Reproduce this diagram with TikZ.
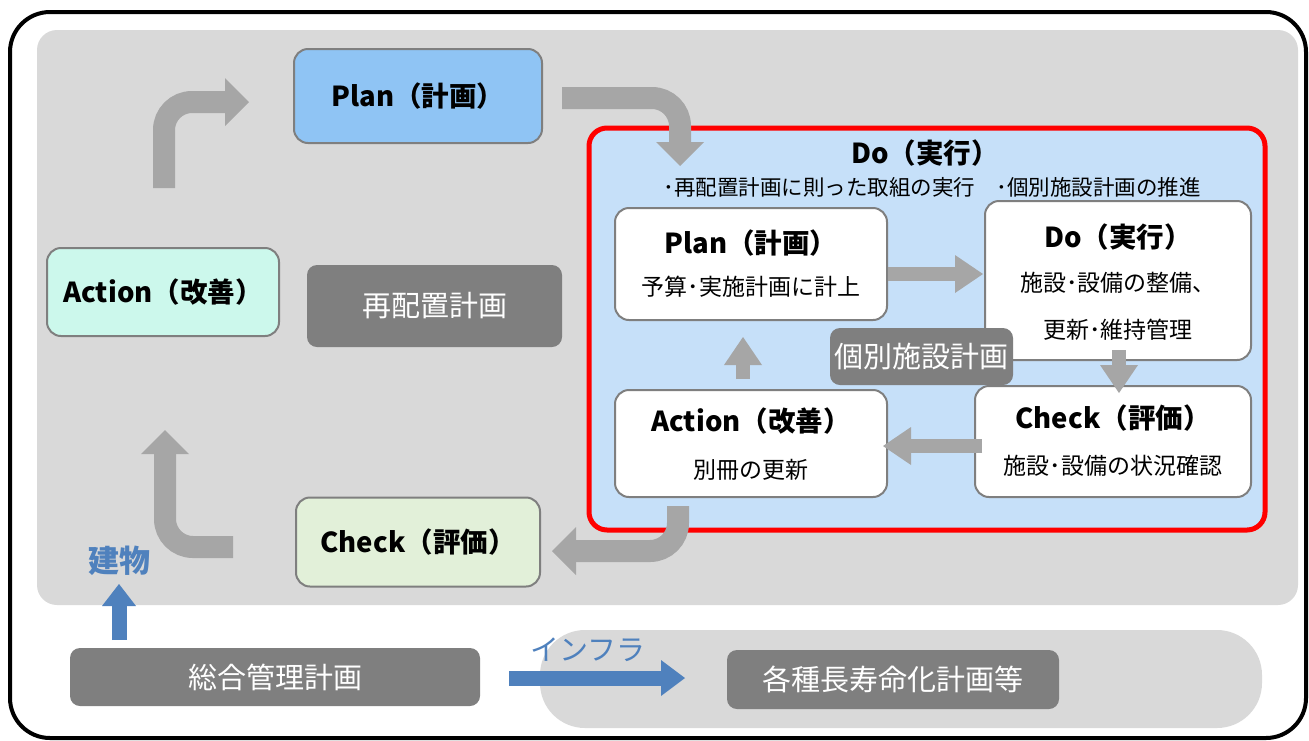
\documentclass[tikz,border=0pt]{standalone}
\usepackage{fontspec}
\setmainfont{Noto Sans CJK JP}
\usetikzlibrary{arrows.meta,calc}
\definecolor{panel}{HTML}{D9D9D9}
\definecolor{dgray}{HTML}{7F7F7F}
\definecolor{agray}{HTML}{A6A6A6}
\definecolor{planblue}{HTML}{8FC4F4}
\definecolor{mint}{HTML}{CCF8EC}
\definecolor{lgreen}{HTML}{E2F0D9}
\definecolor{dofill}{HTML}{C6E0F9}
\definecolor{bblue}{HTML}{4F81BD}
\begin{document}
\begin{tikzpicture}[x=1pt,y=-1pt,
  box/.style={draw=dgray, line width=2pt, rounded corners=14pt, inner sep=0pt},
  darkbox/.style={fill=dgray, rounded corners=10pt, inner sep=0pt, text=white, font=\fontsize{29}{33}\selectfont},
  ttl/.style={font=\fontsize{27.5}{32}\selectfont\bfseries, inner sep=0pt},
  subt/.style={font=\fontsize{23}{27}\selectfont, inner sep=0pt},
  garrow/.style={draw=agray, line width=22pt, rounded corners=28pt, -{Triangle[width=48pt,length=24pt,line width=0pt]}},
  iarrow/.style={draw=agray, line width=14pt, -{Triangle[width=38pt,length=28pt,line width=0pt]}},
  barrow/.style={draw=bblue, line width=15pt, -{Triangle[width=36pt,length=24pt,line width=0pt]}}
]
\useasboundingbox (0,0) rectangle (1309,740);
% frames and panels
\draw[line width=4pt, rounded corners=40pt] (10,12) rectangle (1306,738);
\fill[panel, rounded corners=20pt] (37,30) rectangle (1298,605);
\fill[panel, rounded corners=45pt] (540,630) rectangle (1262,728);

% outer PDCA boxes
\node[box, fill=planblue, minimum width=248pt, minimum height=94pt, ttl] (plan) at (418,96) {Plan（計画）};
\node[box, fill=mint, minimum width=232pt, minimum height=88pt, ttl] (action) at (163,292) {Action（改善）};
\node[box, fill=lgreen, minimum width=244pt, minimum height=89pt, ttl] (check) at (418,542) {Check（評価）};
\node[darkbox, minimum width=255pt, minimum height=82pt] (saihaichi) at (434.5,306) {再配置計画};

% Do red box
\node[draw=red, line width=5pt, fill=dofill, rounded corners=18pt, minimum width=676pt, minimum height=402pt, inner sep=0pt] (dobox) at (927,329) {};
\node[ttl] (dottl) at (925,153) {Do（実行）};
\node[subt, font=\fontsize{21.5}{25}\selectfont] (dosub) at (932,187) {･再配置計画に則った取組の実行　･個別施設計画の推進};

% inner boxes
\node[box, fill=white, minimum width=272pt, minimum height=112pt] (iplan) at (751,264) {};
\node[ttl] (iplant) at (751,243) {Plan（計画）};
\node[subt] (iplans) at (751,287) {予算･実施計画に計上};

\node[box, fill=white, minimum width=266pt, minimum height=159pt] (ido) at (1118,280.5) {};
\node[ttl] (idot) at (1118,237) {Do（実行）};
\node[subt] (idos1) at (1118,283) {施設･設備の整備、};
\node[subt] (idos2) at (1118,330) {更新･維持管理};

\node[box, fill=white, minimum width=272pt, minimum height=107pt] (iaction) at (751,443.5) {};
\node[ttl] (iactiont) at (751,421) {Action（改善）};
\node[subt] (iactions) at (751,470) {別冊の更新};

\node[box, fill=white, minimum width=276pt, minimum height=111pt] (icheck) at (1113,441.5) {};
\node[ttl] (icheckt) at (1113,418) {Check（評価）};
\node[subt] (ichecks) at (1113,466) {施設･設備の状況確認};

\node[darkbox, minimum width=183pt, minimum height=57pt] (kobetsu) at (921.5,356.5) {個別施設計画};

% bottom boxes
\node[darkbox, minimum width=410pt, minimum height=58pt] (sogo) at (275,677) {総合管理計画};
\node[darkbox, minimum width=332pt, minimum height=59pt] (kakushu) at (893,679.5) {各種長寿命化計画等};

% outer arrows
\coordinate (a1) at (562,98);  \coordinate (a2) at (680,166);
\coordinate (b1) at (164,188); \coordinate (b2) at (249,102);
\coordinate (c1) at (233,547); \coordinate (c2) at (165,430);
\coordinate (d1) at (678,506); \coordinate (d2) at (552,551);
\draw[garrow] (a1) -| (a2);
\draw[garrow] (b1) |- (b2);
\draw[garrow] (c1) -| (c2);
\draw[garrow] (d1) |- (d2);

% inner arrows
\draw[iarrow] (888,274) -- (983,274);
\draw[iarrow] (1119,350) -- (1119,393);
\draw[iarrow] (982,446) -- (883,446);
\draw[iarrow] (743,379) -- (743,337);

% blue arrows
\coordinate (t1) at (119,640); \coordinate (t2) at (119,584);
\draw[barrow, -{Triangle[width=34pt,length=22pt,line width=0pt]}] (t1) -- (t2);
\node[text=bblue, font=\fontsize{31}{35}\selectfont\bfseries, inner sep=0pt] (tatemono) at (119,561) {建物};
\coordinate (i1) at (509,678); \coordinate (i2) at (685,678);
\draw[barrow] (i1) -- (i2);
\node[text=bblue, font=\fontsize{29}{33}\selectfont, inner sep=0pt] (infra) at (588,650) {インフラ};
\end{tikzpicture}
\end{document}
